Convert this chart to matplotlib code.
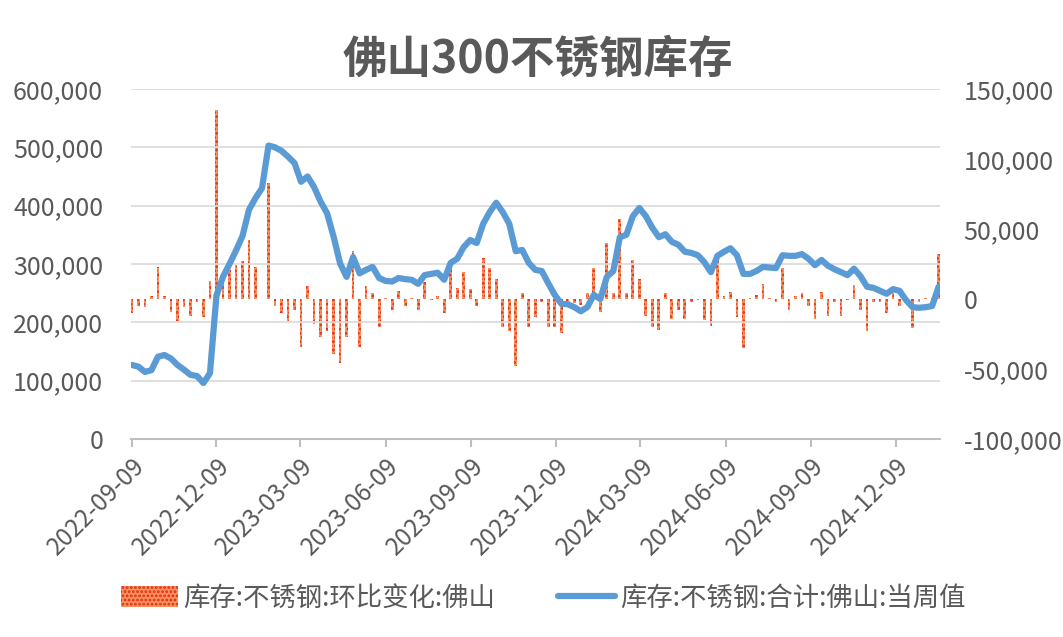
import matplotlib
matplotlib.use("Agg")
import matplotlib.pyplot as plt
import matplotlib.ticker as mticker
import pandas as pd

plt.rcParams['font.family'] = ['Noto Sans CJK SC', 'DejaVu Sans']
plt.rcParams['hatch.linewidth'] = 1.3

# --- données (hebdomadaire, à partir du 2022-09-09) ---
debut = '2022-09-09'

# 库存:不锈钢:合计:佛山:当周值 (axe gauche)
stock_total = [
    127000, 124000, 115000, 118000, 141000, 144000, 138000, 127000, 119000, 110000,
    108000, 96000, 113000, 246000, 278000, 300000, 323000, 348000, 393000, 413000,
    430000, 503000, 500000, 494000, 484000, 473000, 441000, 450000, 432000, 407000,
    387000, 347000, 301000, 278000, 312000, 284000, 290000, 295000, 276000, 271000,
    270000, 276000, 274000, 273000, 266000, 281000, 283000, 285000, 273000, 302000,
    309000, 329000, 341000, 336000, 369000, 389000, 405000, 389000, 369000, 322000,
    324000, 302000, 290000, 288000, 267000, 247000, 232000, 231000, 226000, 219000,
    226000, 247000, 240000, 278000, 288000, 346000, 350000, 382000, 396000, 382000,
    362000, 346000, 351000, 338000, 333000, 321000, 319000, 315000, 303000, 286000,
    314000, 321000, 327000, 315000, 283000, 283000, 288000, 295000, 294000, 293000,
    315000, 314000, 314000, 317000, 309000, 298000, 307000, 297000, 291000, 286000,
    281000, 292000, 279000, 261000, 259000, 254000, 249000, 257000, 254000, 238000,
    226000, 225000, 226000, 228000, 261000,
]

# 库存:不锈钢:环比变化:佛山 (axe droit)
variation = [
    -10000, -5000, -6000, 2000, 23000, 2000, -9000, -16000, -6000, -12000,
    -2000, -13000, 13000, 135000, 16000, 21000, 24000, 27000, 42000, 23000,
    0, 83000, -5000, -10000, -16000, -8000, -34000, 9000, -18000, -27000,
    -23000, -39000, -46000, -27000, 34000, -34000, 9000, 4000, -20000, 1000,
    -8000, 6000, -5000, 1000, -8000, 12000, -1000, 2000, -10000, 23000,
    8000, 19000, 7000, -5000, 29000, 22000, 14000, -20000, -23000, -48000,
    4000, -20000, -13000, -2000, -20000, -20000, -24000, -2000, -3000, -4000,
    4000, 22000, -9000, 40000, 4000, 57000, 4000, 28000, 14000, -12000,
    -20000, -22000, 4000, -14000, -8000, -14000, -2000, -1000, -15000, -19000,
    28000, 2000, 5000, -13000, -35000, 1000, 3000, 11000, 1000, -2000,
    22000, -8000, 2000, 4000, -5000, -14000, 5000, -12000, -2000, -12000,
    -1000, 10000, -8000, -23000, -2000, -2000, -10000, 4000, -5000, -3000,
    -21000, -2000, 1000, 1000, 32000,
]

etiquettes_x = ['2022-09-09', '2022-12-09', '2023-03-09', '2023-06-09', '2023-09-09',
                '2023-12-09', '2024-03-09', '2024-06-09', '2024-09-09', '2024-12-09']

titre = '佛山300不锈钢库存'
nom_barres = '库存:不锈钢:环比变化:佛山'
nom_ligne = '库存:不锈钢:合计:佛山:当周值'

dates = pd.date_range(debut, periods=len(stock_total), freq='7D')

gris = '#595959'
gris_axe = '#bfbfbf'

fig = plt.figure(figsize=(10.63, 6.37), dpi=100)
ax = fig.add_axes([0.1232, 0.3108, 0.7611, 0.5495])
ax2 = ax.twinx()
ax.set_zorder(ax2.get_zorder() + 1)  # la ligne passe au-dessus des barres
ax.patch.set_visible(False)

barres = ax2.bar(dates, variation, width=3.0, facecolor='#f8925a',
                 edgecolor='#e3261a', hatch='....', linewidth=0)
ligne, = ax.plot(dates, stock_total, color='#5b9bd5', lw=4.5,
                 solid_joinstyle='round', solid_capstyle='round')

# axes
ax.set_ylim(0, 600000)
ax.set_yticks(range(0, 600001, 100000))
ax2.set_ylim(-100000, 150000)
ax2.set_yticks(range(-100000, 150001, 50000))
fmt = mticker.FuncFormatter(lambda v, p: f'{v:,.0f}')
ax.yaxis.set_major_formatter(fmt)
ax2.yaxis.set_major_formatter(fmt)

ax.set_xlim(dates[0] - pd.Timedelta(days=1), dates[-1] + pd.Timedelta(days=1.5))
ax.set_xticks(pd.to_datetime(etiquettes_x))
ax.set_xticklabels(etiquettes_x, rotation=45, ha='right', va='top',
                   rotation_mode='anchor')

ax.grid(axis='y', color='#d9d9d9', lw=1.2)
ax.set_axisbelow(True)

for a in (ax, ax2):
    for s in a.spines.values():
        s.set_visible(False)
ax.spines['bottom'].set_visible(True)
ax.spines['bottom'].set_color(gris_axe)
ax.spines['bottom'].set_linewidth(1.5)

ax.tick_params(axis='y', length=0, pad=20, labelsize=18, labelcolor=gris)
ax2.tick_params(axis='y', length=0, pad=17, labelsize=18, labelcolor=gris)
ax.tick_params(axis='x', length=6, width=1.5, color=gris_axe, pad=4,
               labelsize=17.5, labelcolor=gris)

fig.text(0.506, 0.906, titre, ha='center', va='center', fontsize=32,
         fontweight='bold', color=gris)

fig.legend([barres, ligne], [nom_barres, nom_ligne], loc='center',
           bbox_to_anchor=(0.511, 0.061), ncol=2, frameon=False, fontsize=19,
           handlelength=2.15, handleheight=0.8, columnspacing=2.4,
           handletextpad=0.2, labelcolor=gris)

fig.savefig('out.png', dpi=100)
